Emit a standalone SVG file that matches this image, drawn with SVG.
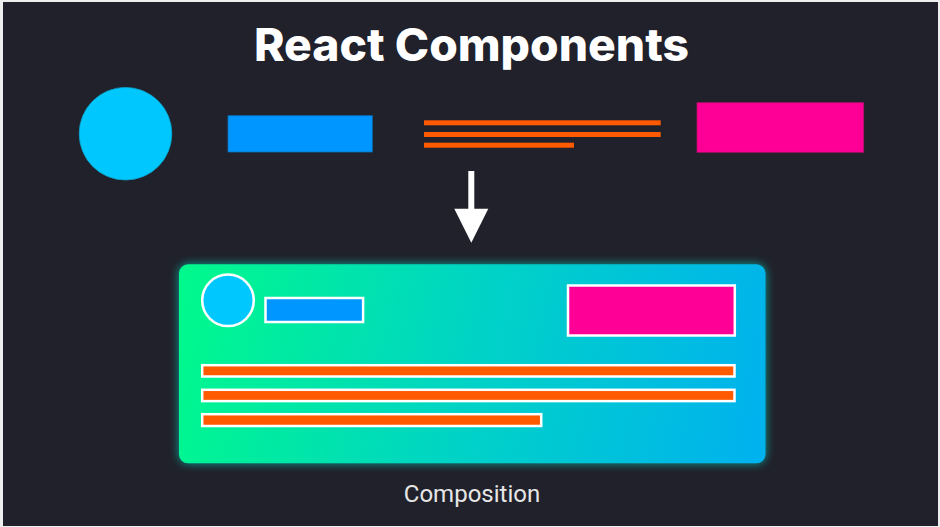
<svg xmlns="http://www.w3.org/2000/svg" width="940" height="527" viewBox="0 0 940 527">
  <style>
    .title { font-family: Inter, "Noto Sans", "DejaVu Sans", sans-serif; font-weight: 800; font-size: 45px; fill: #ffffff; }
    .label { font-family: Roboto, "Liberation Sans", Arial, sans-serif; font-size: 24px; fill: #e6e6e6; }
    .orange { fill: #ff5a00; }
    .inner { stroke: #ffffff; stroke-width: 2.5; }
  </style>
  <defs>
    <linearGradient id="cardGrad" gradientUnits="userSpaceOnUse" x1="179" y1="300" x2="765" y2="420">
      <stop offset="0" stop-color="#00f98c"/>
      <stop offset="0.5" stop-color="#00d3c6"/>
      <stop offset="1" stop-color="#00b2ee"/>
    </linearGradient>
    <filter id="glow" x="-10%" y="-15%" width="120%" height="130%">
      <feGaussianBlur in="SourceAlpha" stdDeviation="5" result="b"/>
      <feFlood flood-color="#00d8c8" flood-opacity="0.7"/>
      <feComposite in2="b" operator="in" result="g"/>
      <feMerge>
        <feMergeNode in="g"/>
        <feMergeNode in="SourceGraphic"/>
      </feMerge>
    </filter>
  </defs>

  <rect x="0" y="0" width="940" height="527" fill="#efefef"/>
  <rect x="3" y="2" width="935" height="524" fill="#20212a"/>

  <text class="title" x="471.5" y="60.5" text-anchor="middle" textLength="435" lengthAdjust="spacingAndGlyphs">React Components</text>

  <g id="circle-component">
    <circle cx="125.5" cy="133.7" r="46.3" fill="#00c8ff" stroke="#0aa3cc" stroke-width="0.8"/>
  </g>
  <g id="button-component">
    <rect x="228" y="115.7" width="144.3" height="36.3" fill="#0096ff" stroke="#0a6fb8" stroke-width="0.8"/>
  </g>
  <g id="text-component">
    <rect class="orange" x="424" y="120.3" width="236.7" height="5"/>
    <rect class="orange" x="424" y="132" width="236.7" height="5"/>
    <rect class="orange" x="424" y="142.7" width="150" height="5"/>
  </g>
  <g id="image-component">
    <rect x="697" y="102.7" width="166.7" height="49.6" fill="#ff0096" stroke="#b0106a" stroke-width="0.8"/>
  </g>

  <g id="connectors">
    <polygon points="468.3,171 474.3,171 474.3,208.7 488.3,208.7 471.3,242.7 454.3,208.7 468.3,208.7" fill="#ffffff"/>
  </g>

  <g id="composition-card">
    <rect x="179" y="264.3" width="586.5" height="199" rx="9" fill="url(#cardGrad)" filter="url(#glow)"/>
    <circle class="inner" cx="228" cy="300.3" r="25.8" fill="#00c8ff"/>
    <rect class="inner" x="265.5" y="298" width="97.6" height="24" fill="#0096ff"/>
    <rect class="inner" x="568" y="285.5" width="166.8" height="50" fill="#ff0096"/>
    <rect class="inner orange" x="202.2" y="365.2" width="532.3" height="11.3" stroke-width="2.3"/>
    <rect class="inner orange" x="202.2" y="389.8" width="532.3" height="11.3" stroke-width="2.3"/>
    <rect class="inner orange" x="202.2" y="414.2" width="339" height="11.8" stroke-width="2.3"/>
  </g>

  <g id="composition-label">
    <text class="label" x="472" y="502" text-anchor="middle">Composition</text>
  </g>
</svg>
